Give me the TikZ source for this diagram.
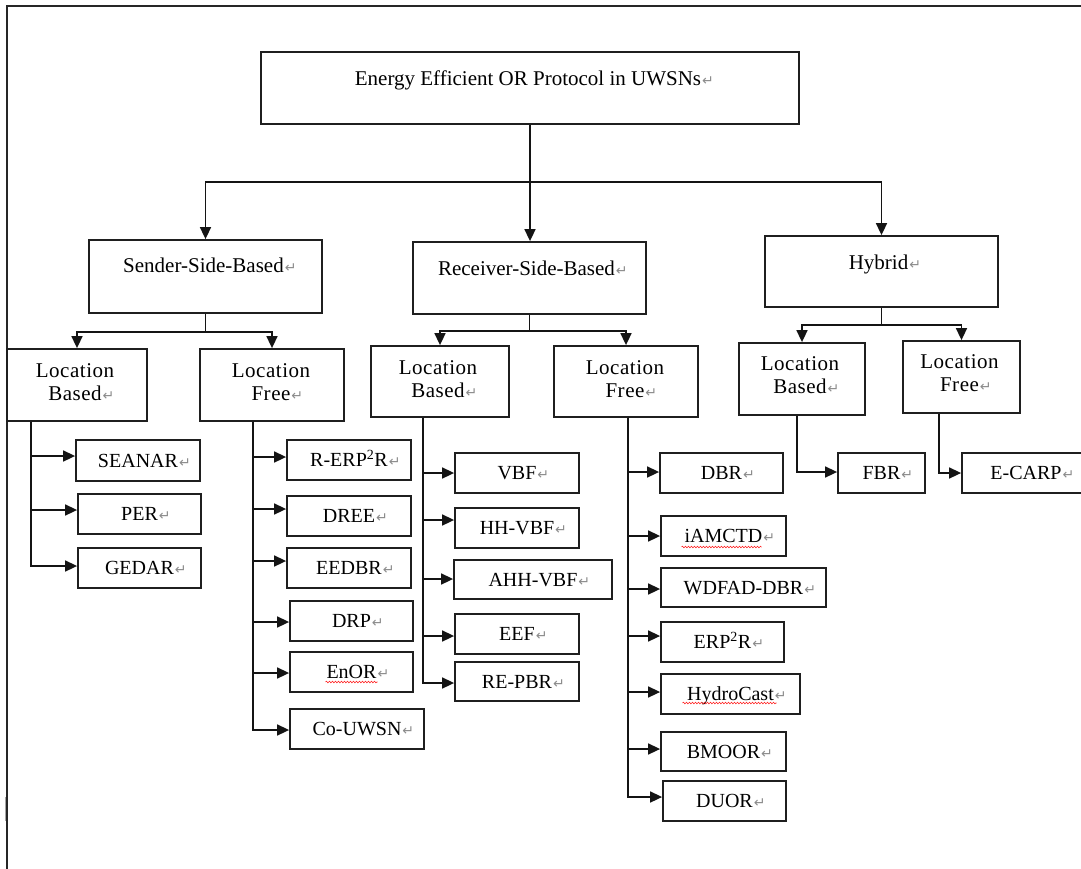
\documentclass[tikz,border=0pt]{standalone}
\usepackage{fontspec}
\setmainfont{Liberation Serif}
\newfontfamily\djv{DejaVu Sans}
\newfontfamily\spacedrm[LetterSpace=2.5]{Liberation Serif}
\usetikzlibrary{arrows.meta,decorations.pathmorphing}
\newcommand\retmk{\rlap{\hspace{1pt}{\djv\fontsize{14}{14}\selectfont\color{black!45}↵}}}
\begin{document}
\begin{tikzpicture}[x=1pt,y=-1pt,
  box/.style={draw=black!88, line width=1.8pt, inner sep=0pt, rectangle},
  leaf/.style={box, font=\fontsize{20}{22}\selectfont, text height=13.5pt, text depth=0pt},
  hdr/.style={font=\fontsize{21}{23}\selectfont, inner sep=0pt, anchor=base},
  loc/.style={font=\spacedrm\fontsize{21}{23}\selectfont, inner sep=0pt, anchor=base},
  conn/.style={draw=black!92, line width=1.6pt},
  arr/.style={conn, -{Triangle[length=12pt,width=11pt]}},
  squig/.style={draw=red!85, line width=0.6pt, decorate, decoration={snake, segment length=3pt, amplitude=0.8pt}}]
\useasboundingbox (0,0) rectangle (1081,868);
\clip (0,0) rectangle (1081,868);
\fill[white] (0,0) rectangle (1081,868);
% frame
\draw[line width=1.8pt, black!85] (7.3,880) -- (7.3,6) -- (1090,6);
\draw[black!35, line width=1pt] (5,797) -- (5,821);

% top levels
\node[box, minimum width=538pt, minimum height=72pt] (root) at (530,88) {};
\node[hdr] (roott) at ([yshift=-34pt,xshift=-2pt]root.north) {Energy Efficient OR Protocol in UWSNs\retmk};
\node[box, minimum width=233pt, minimum height=73pt] (send) at (205.5,276.5) {};
\node[hdr] (sendt) at ([yshift=-33pt,xshift=-2pt]send.north) {Sender-Side-Based\retmk};
\node[box, minimum width=233pt, minimum height=72pt] (recv) at (529.5,278) {};
\node[hdr] (recvt) at ([yshift=-34pt,xshift=-3pt]recv.north) {Receiver-Side-Based\retmk};
\node[box, minimum width=233pt, minimum height=71pt] (hyb) at (881.5,271.5) {};
\node[hdr] (hybt) at ([yshift=-34pt,xshift=-3pt]hyb.north) {Hybrid\retmk};

% location boxes
\node[box, minimum width=140pt, minimum height=72pt] (slb) at (77,385) {};
\node[loc] (slb1) at ([yshift=-29pt,xshift=-2pt]slb.north) {Location};
\node[loc] (slb2) at ([yshift=-52pt,xshift=-2pt]slb.north) {Based\retmk};
\node[box, minimum width=144pt, minimum height=72pt] (slf) at (272,385) {};
\node[loc] (slf1) at ([yshift=-29pt,xshift=-1pt]slf.north) {Location};
\node[loc] (slf2) at ([yshift=-52pt,xshift=-1pt]slf.north) {Free\retmk};
\node[box, minimum width=138pt, minimum height=71pt] (rlb) at (440,381.5) {};
\node[loc] (rlb1) at ([yshift=-29pt,xshift=-2pt]rlb.north) {Location};
\node[loc] (rlb2) at ([yshift=-52pt,xshift=-2pt]rlb.north) {Based\retmk};
\node[box, minimum width=144pt, minimum height=71pt] (rlf) at (626,381.5) {};
\node[loc] (rlf1) at ([yshift=-29pt,xshift=-1pt]rlf.north) {Location};
\node[loc] (rlf2) at ([yshift=-52pt,xshift=-1pt]rlf.north) {Free\retmk};
\node[box, minimum width=126pt, minimum height=72pt] (hlb) at (802,379) {};
\node[loc] (hlb1) at ([yshift=-28pt,xshift=-2pt]hlb.north) {Location};
\node[loc] (hlb2) at ([yshift=-51pt,xshift=-2pt]hlb.north) {Based\retmk};
\node[box, minimum width=117pt, minimum height=72pt] (hlf) at (961.5,377) {};
\node[loc] (hlf1) at ([yshift=-28pt,xshift=-2pt]hlf.north) {Location};
\node[loc] (hlf2) at ([yshift=-51pt,xshift=-2pt]hlf.north) {Free\retmk};

% leaves: sender location based
\node[leaf, minimum width=124pt, minimum height=41pt] (seanar) at (138,460.5) {SEANAR\retmk};
\node[leaf, minimum width=123pt, minimum height=40pt] (per) at (139.5,514) {PER\retmk};
\node[leaf, minimum width=123pt, minimum height=40pt] (gedar) at (139.5,568) {GEDAR\retmk};
% sender location free
\node[leaf, minimum width=124pt, minimum height=40pt] (rerp) at (349,460) {R-ERP\textsuperscript{2}R\retmk};
\node[leaf, minimum width=124pt, minimum height=40pt] (dree) at (349,516) {DREE\retmk};
\node[leaf, minimum width=124pt, minimum height=40pt] (eedbr) at (349,568) {EEDBR\retmk};
\node[leaf, minimum width=123pt, minimum height=40pt] (drp) at (351.5,621) {DRP\retmk};
\node[leaf, minimum width=123pt, minimum height=40pt] (enor) at (351.5,672) {EnOR\retmk};
\node[leaf, minimum width=134pt, minimum height=40pt] (couwsn) at (357,729) {Co-UWSN\retmk};
% receiver location based
\node[leaf, minimum width=124pt, minimum height=40pt] (vbf) at (517,473) {VBF\retmk};
\node[leaf, minimum width=124pt, minimum height=40pt] (hhvbf) at (517,528) {HH-VBF\retmk};
\node[leaf, minimum width=158pt, minimum height=39pt] (ahhvbf) at (533,579.5) {AHH-VBF\retmk};
\node[leaf, minimum width=124pt, minimum height=40pt] (eef) at (517,634) {EEF\retmk};
\node[leaf, minimum width=124pt, minimum height=39pt] (repbr) at (517,681.5) {RE-PBR\retmk};
% receiver location free
\node[leaf, minimum width=123pt, minimum height=40pt] (dbr) at (721.5,473) {DBR\retmk};
\node[leaf, minimum width=125pt, minimum height=40pt] (iamctd) at (723.5,536) {iAMCTD\retmk};
\node[leaf, minimum width=165pt, minimum height=39pt] (wdfad) at (743.5,587.5) {WDFAD-DBR\retmk};
\node[leaf, minimum width=123pt, minimum height=40pt] (erp) at (722.5,642) {ERP\textsuperscript{2}R\retmk};
\node[leaf, minimum width=139pt, minimum height=40pt] (hydro) at (730.5,694) {HydroCast\retmk};
\node[leaf, minimum width=125pt, minimum height=39pt] (bmoor) at (723.5,751.5) {BMOOR\retmk};
\node[leaf, minimum width=123pt, minimum height=40pt] (duor) at (724.5,801) {DUOR\retmk};
% hybrid
\node[leaf, minimum width=87pt, minimum height=40pt] (fbr) at (881.5,473) {FBR\retmk};
\node[leaf, minimum width=128pt, minimum height=40pt] (ecarp) at (1026,473) {E-CARP\retmk};

% spell-check squiggles
\draw[squig] ([xshift=-26pt,yshift=-10pt]enor.center) -- ([xshift=26pt,yshift=-10pt]enor.center);
\draw[squig] ([xshift=-42pt,yshift=-11pt]iamctd.center) -- ([xshift=38pt,yshift=-11pt]iamctd.center);
\draw[squig] ([xshift=-48pt,yshift=-9pt]hydro.center) -- ([xshift=46pt,yshift=-9pt]hydro.center);

% connectors level 1
\coordinate (rb) at ([yshift=-57pt]root.south);
\draw[conn] (root.south) -- (rb);
\draw[arr] (rb) -| (send.north);
\draw[arr] (rb) -| (hyb.north);
\draw[arr] (rb) -- (rb |- recv.north);
% level 2
\coordinate (sb) at ([yshift=-18pt]send.south);
\draw[conn] (send.south) -- (sb);
\draw[arr] (sb) -| (slb.north);
\draw[arr] (sb) -| (slf.north);
\coordinate (rcb) at ([yshift=-16pt]recv.south);
\draw[conn] (recv.south) -- (rcb);
\draw[arr] (rcb) -| (rlb.north);
\draw[arr] (rcb) -| (rlf.north);
\coordinate (hb) at ([yshift=-17pt]hyb.south);
\draw[conn] (hyb.south) -- (hb);
\draw[arr] (hb) -| (hlb.north);
\draw[arr] (hb) -| (hlf.north);

% trunks
\coordinate (slbT) at ([xshift=25pt]slb.south west);
\draw[arr] (slbT) |- ([yshift=4.5pt]seanar.west);
\draw[arr] (slbT) |- ([yshift=4pt]per.west);
\draw[arr] (slbT) |- ([yshift=2pt]gedar.west);

\coordinate (slfT) at ([xshift=54pt]slf.south west);
\draw[arr] (slfT) |- ([yshift=3pt]rerp.west);
\draw[arr] (slfT) |- ([yshift=7pt]dree.west);
\draw[arr] (slfT) |- ([yshift=7pt]eedbr.west);
\draw[arr] (slfT) |- ([yshift=-1pt]drp.west);
\draw[arr] (slfT) |- ([yshift=-1pt]enor.west);
\draw[arr] (slfT) |- ([yshift=-1pt]couwsn.west);

\coordinate (rlbT) at ([xshift=53pt]rlb.south west);
\draw[arr] (rlbT) |- (vbf.west);
\draw[arr] (rlbT) |- ([yshift=8pt]hhvbf.west);
\draw[arr] (rlbT) |- ([yshift=0.5pt]ahhvbf.west);
\draw[arr] (rlbT) |- ([yshift=-2pt]eef.west);
\draw[arr] (rlbT) |- ([yshift=-1.5pt]repbr.west);

\coordinate (rlfT) at ([xshift=75pt]rlf.south west);
\draw[arr] (rlfT) |- ([yshift=1pt]dbr.west);
\draw[arr] (rlfT) |- (iamctd.west);
\draw[arr] (rlfT) |- ([yshift=-1.5pt]wdfad.west);
\draw[arr] (rlfT) |- ([yshift=6pt]erp.west);
\draw[arr] (rlfT) |- ([yshift=2pt]hydro.west);
\draw[arr] (rlfT) |- ([yshift=2.5pt]bmoor.west);
\draw[arr] (rlfT) |- ([yshift=4pt]duor.west);

\coordinate (hlbT) at ([xshift=59pt]hlb.south west);
\draw[arr] (hlbT) |- ([yshift=1pt]fbr.west);
\coordinate (hlfT) at ([xshift=37pt]hlf.south west);
\draw[arr] (hlfT) |- (ecarp.west);
\end{tikzpicture}
\end{document}
